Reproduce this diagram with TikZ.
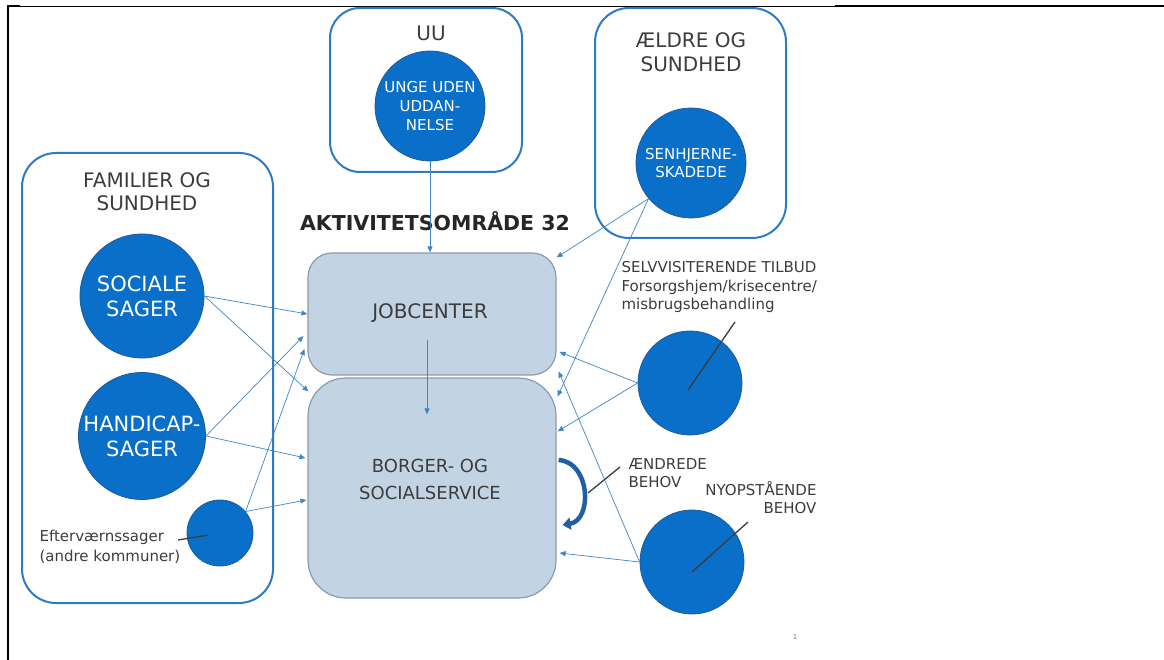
\documentclass[tikz,border=0pt]{standalone}
\usepackage{fontspec}
\setmainfont{DejaVu Sans}
\usetikzlibrary{calc,arrows.meta}
\definecolor{ballblue}{HTML}{0A6FC8}
\definecolor{balledge}{HTML}{1C5A9C}
\definecolor{frameblue}{HTML}{2E7BC4}
\definecolor{boxfill}{HTML}{C2D4E4}
\definecolor{boxedge}{HTML}{8E9BA8}
\definecolor{flowblue}{HTML}{3F86C6}
\definecolor{turnblue}{HTML}{1F5FA5}
\definecolor{txtgray}{HTML}{3C3C3C}

\begin{document}
\begin{tikzpicture}
      [x=1pt,y=-1pt,
      every node/.style={text=txtgray,align=center},
      group/.style={draw=frameblue,line width=2pt,rounded corners=34pt},
      ball/.style={circle,fill=ballblue,draw=balledge,line width=0.8pt,text=white,inner sep=0pt},
      office/.style={draw=boxedge,fill=boxfill,line width=1.2pt,minimum width=248pt},
      flow/.style={draw=flowblue,line width=0.7pt,-{Triangle[length=6pt,width=5pt]}},
      turn/.style={draw=turnblue,line width=4.5pt,-{Triangle[length=8pt,width=12pt]}},
      pointer/.style={draw=txtgray,line width=1.3pt}]
\useasboundingbox (0,0) rectangle (1164,660);
\draw[line width=2pt] (8,660) -- (8,6) -- (20,6);
\draw[line width=0.8pt] (8,6) -- (835,6);
\draw[line width=2pt] (835,6) -- (1164,6);

\node[group,minimum width=251pt,minimum height=450pt] (fam) at (147.5,378) {};
\node[group,minimum width=192pt,minimum height=164pt,rounded corners=30pt] (uu) at (426,90) {};
\node[group,minimum width=191pt,minimum height=230pt] (aeldre) at (690.5,123) {};
\node[font=\fontsize{20}{23}\selectfont] (famtitle) at (147,192) {FAMILIER OG\\SUNDHED};
\node[font=\fontsize{20}{23}\selectfont] (uutitle) at (431,33) {UU};
\node[font=\fontsize{20}{24}\selectfont] (aeldretitle) at (691,52) {ÆLDRE OG\\SUNDHED};

\node[ball,minimum size=124pt,font=\fontsize{21}{25}\selectfont] (soc) at (142,296) {SOCIALE\\SAGER};
\node[ball,minimum size=127pt,font=\fontsize{21}{25}\selectfont] (hand) at (142,436) {HANDICAP-\\SAGER};
\node[ball,minimum size=66pt] (eft) at (220,533) {};
\node[ball,minimum size=110pt,font=\fontsize{15}{19}\selectfont] (unge) at (430,106) {UNGE UDEN\\UDDAN-\\NELSE};
\node[ball,minimum size=110pt,font=\fontsize{15}{18}\selectfont] (senh) at (691,163) {SENHJERNE-\\SKADEDE};
\node[ball,minimum size=104pt] (selv) at (690,383) {};
\node[ball,minimum size=104pt] (nyop) at (692,562) {};

\node[font=\fontsize{15}{20}\selectfont,align=left,anchor=west] (eftlbl) at (36,547) {Efterværnssager\\(andre kommuner)};
\node[font=\fontsize{15}{18.5}\selectfont,align=left,anchor=north west] (selvlbl) at (618,258) {SELVVISITERENDE TILBUD\\Forsorgshjem/krisecentre/\\misbrugsbehandling};
\node[font=\fontsize{15}{18}\selectfont,align=left,anchor=west] (aendlbl) at (625,473) {ÆNDREDE\\BEHOV};
\node[font=\fontsize{15}{18}\selectfont,align=right,anchor=east] (nyoplbl) at (820,498) {NYOPSTÅENDE\\BEHOV};
\node[font=\bfseries\fontsize{20.5}{24}\selectfont,text=black!85] (area) at (435,221) {AKTIVITETSOMRÅDE 32};

\node[office,minimum height=122pt,rounded corners=24pt] (job) at (432,314) {};
\node[font=\fontsize{20}{24}\selectfont] (jobtxt) at (430,313) {JOBCENTER};
\node[office,minimum height=220pt,rounded corners=38pt] (bor) at (432,488) {};
\node[font=\fontsize{18}{27}\selectfont] (bortxt) at (430,479) {BORGER- OG\\SOCIALSERVICE};

\draw[flow] (soc.east) -- (job.west);
\draw[flow] (soc.east) -- ($(bor.north west)+(1,14)$);
\draw[flow] (hand.east) -- ($(job.west)+(-4,22)$);
\draw[flow] (hand.east) -- ($(bor.west)+(-2,-30)$);
\draw[flow] (eft.40) -- ($(job.west)+(-3,35)$);
\draw[flow] (eft.40) -- ($(bor.west)+(-1,12)$);
\draw[flow] (unge.south) -- (unge.south |- job.north);
\draw[flow] ($(job.center)+(-5,26)$) -- ($(bor.north)+(-5,37)$);
\draw[flow] (senh.220) -- ($(job.north east)+(0,5)$);
\draw[flow] (senh.220) -- ($(bor.north east)+(1,19)$);
\draw[flow] (selv.west) -- ($(job.east)+(3,38)$);
\draw[flow] (selv.west) -- ($(bor.north east)+(1,54)$);
\draw[flow] (nyop.west) -- ($(job.south east)+(2,-4)$);
\draw[flow] (nyop.west) -- ($(bor.east)+(3,65)$);
\draw[turn] ($(bor.east)+(2,-28)$) .. controls +(32,2) and +(30,-5) .. ($(bor.east)+(6,37)$);

\draw[pointer] ($(eft.center)+(-42,7)$) -- ($(eft.center)+(-12,2)$);
\draw[pointer] ($(selv.center)+(45,-61)$) -- ($(selv.center)+(-2,7)$);
\draw[pointer] ($(aendlbl.west)+(-37,20)$) -- ($(aendlbl.west)+(-5,-6)$);
\draw[pointer] ($(nyop.center)+(56,-40)$) -- ($(nyop.center)+(0,10)$);
\node[font=\fontsize{7}{8}\selectfont,text=gray] (pgno) at (795,637) {1};
\end{tikzpicture}
\end{document}
